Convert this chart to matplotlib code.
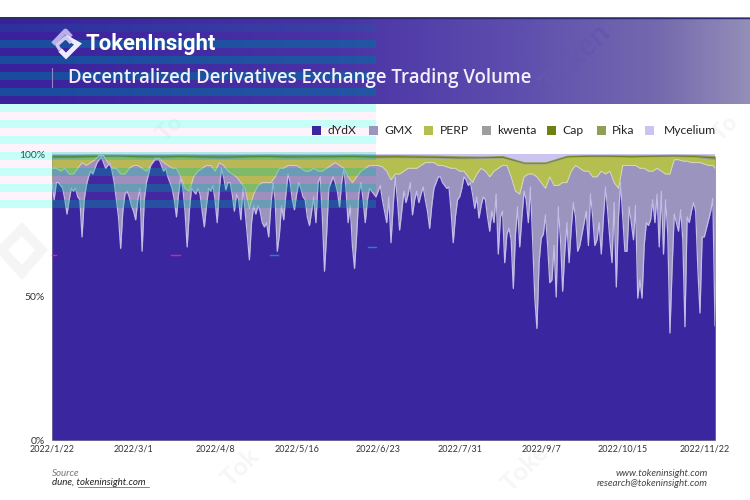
import numpy as np
import matplotlib
matplotlib.use('Agg')
import matplotlib.pyplot as plt
from matplotlib.colors import LinearSegmentedColormap
from matplotlib.patches import Rectangle, Polygon

# dYdX share, one value per day starting 2022/1/22
dydx = [90,84,90,90,89,88,84,79,84,88,87,88,85,84,71,84,89,92,94,93,
        95,97,98,99,97,95,96,97,94,90,84,78,67,80,86,87,85,82,80,77,
        84,88,66,84,90,93,96,97,98,98,98,96,94,95,92,90,88,84,78,86,
        92,88,80,67.5,80,88,87,86,88,86,80,74.5,82,88,87,89,84,76,88,95,
        92,87.5,90,90,86,80,86,84,77,88,80,72,63,76,82,79,82,80,76,74.5,
        76,71,82,90,84,66,72,82,77,86,93,90,84,80.5,86,90,88,85,84,78,
        75,80,85,76,90,92,78,59,72,88,90,92,90,87,81.5,90,95,88,76,82,
        68,60,72,86,90,84,76,84,88,87,86,85,87,89,84,80,76,85,69,82,
        92,84,73.4,80,87,83,86,90,78.7,84,87,83,86,88.5,84,80,74,82,88,90,
        92,92,90,89,88,88.5,80,69,78,84,85,88,92,91,89,90,86,81,85,77.6,
        82,85,84,78,73,80,76,86,65,78,80,62,72,74,70,53,72,81.5,67.5,78,
        87,84,76,88.5,70,50,39,62,70.6,72,78.7,68,55,56,68,50,81.5,70,52,66,
        76,62,74,83,78,66,68,72,76,80,68,86,78,68,70,76,65,78,88.5,80,
        70,62,83,53.5,78,90,78,66,66,81.5,76,70,82,49.6,56,49.6,68,76,75,77,
        84,76,86,67.5,87,65,84,72,37.4,60,79,76,73,80.5,70,39.6,78,76,80,83,
        80,60,44.4,71,71,74,77,80,84.5,40]

# top edge of the GMX layer, one value every 2 days, last day added
gmx_days = list(range(0, 309, 2)) + [309]
gmx_top = [95,95,94,95,93,93,95,97,96,97,98,99.5,99.5,97,95,95,93,93,95,96,
           96,95,94,96,98.5,98.5,97,96,95,95,92,88,87,92,94,95,96,96,94,97,
           96,94,93,92,90,88,81,86,89,90,90,90,92,95,95,96,96,96,95,94,
           94,95,94,94,95,96,97,96,95,92,90,92,94,95,96,96,96,95.5,94,91,
           93,93,94,95,95,95,96,97,97,97,96,96,95.5,95,95,94,94,92,90,93,
           95,94,92,94,95,96,96,92,87,86,92,93,93,92,90,88,92,89,89,90,
           90,94,96,95,94,94,92,92,94,93,94,90,88,96,96,96,96,95,95,94,
           94,95,94,93,93,98,98,97.5,97.5,97,97,97,96.5,96,96,95]

# top edges of the thin layers, one value every 10 days, last day added
top_days = list(range(0, 310, 10)) + [309]
perp_top = [98.5,98.6,98.8,99,98.7,98.5,98.8,98.6,98.4,98.7,98.8,98.5,98.6,98.7,98.8,98.5,
            98.7,98.6,98.5,98.3,98.4,98.6,96.5,96.5,98.8,99,99,98.8,99,99.1,98.8,98]
kwenta_top = [98.9,98.9,99.1,99.3,99,98.9,99.1,98.9,98.8,99,99.1,98.9,99,99,99.1,98.9,
              99,98.9,98.8,98.6,98.7,98.8,96.8,96.8,99,99.2,99.2,99,99.2,99.3,99.1,98.5]
cap_top = [99.4,99.5,99.5,99.6,99.5,99.4,99.5,99.4,99.3,99.5,99.5,99.4,99.4,99.5,99.5,99.4,
           99.4,99.3,99.2,99,99,99.2,97,97,99.3,99.5,99.5,99.4,99.5,99.6,99.4,99]
pika_top = [99.8,99.8,99.9,99.9,99.8,99.8,99.9,99.8,99.8,99.8,99.9,99.8,99.8,99.8,99.9,99.8,
            99.8,99.7,99.6,99.4,99.3,99.5,97.3,97.3,99.6,99.8,99.8,99.7,99.8,99.9,99.8,99.5]

legend_names = ['dYdX', 'GMX', 'PERP', 'kwenta', 'Cap', 'Pika', 'Mycelium']
legend_colors = ['#3a27a0', '#9a94bf', '#b5bf50', '#9e9e9e', '#6d8012', '#8f9f52', '#c9c5f0']
legend_box_x = [312, 369, 424, 482, 547, 597, 645]
legend_text_x = [328, 384, 440, 497, 562, 612, 664]

tick_days = list(range(0, 305, 38))
tick_labels = ['2022/1/22', '2022/3/1', '2022/4/8', '2022/5/16', '2022/6/23',
               '2022/7/31', '2022/9/7', '2022/10/15', '2022/11/22']

plt.rcParams['font.family'] = 'Lato'
fig = plt.figure(figsize=(7.5, 5), dpi=100, facecolor='white')

# background: header gradient and watermark
bg = fig.add_axes([0, 0, 1, 1], zorder=0)
header_cmap = LinearSegmentedColormap.from_list('header', [(0, '#3a219c'), (0.45, '#4a33a6'), (0.7, '#5f4fae'),
                                                           (0.88, '#7469ae'), (1, '#938db8')])
bg.imshow(np.linspace(0, 1, 300).reshape(1, -1), extent=(0, 750, 104, 17), cmap=header_cmap, aspect='auto', zorder=1)
bg.set_xlim(0, 750)
bg.set_ylim(500, 0)
bg.axis('off')
bg.plot([0, 750], [17.5, 17.5], color='#2c2a70', lw=1, zorder=2)
for x, y, s, size in [(170, 128, 'To', 16), (525, 468, 'Toke', 18), (240, 468, 'Tok', 18), (725, 128, 'To', 16)]:
    bg.text(x, y, s, rotation=45, fontsize=size, fontweight='bold', color='#f6f6f6', ha='center', va='center', zorder=2)
bg.text(575, 58, 'Token', rotation=45, fontsize=22, fontweight='bold', color='#6457ae', ha='center', va='center', zorder=2)
bg.add_patch(Polygon([(-5, 250), (22, 222), (48, 250), (22, 280)], facecolor='#f5f5f5', lw=0, zorder=2))
bg.add_patch(Polygon([(8, 250), (22, 236), (35, 250), (22, 265)], facecolor='white', lw=0, zorder=2))

# main chart
ax = fig.add_axes([52 / 750, 1 - 440 / 500, 663 / 750, 286 / 500], zorder=1)
days = np.arange(len(dydx))
ax.fill_between(top_days, 0, 100, color=legend_colors[6], lw=0)
ax.fill_between(top_days, 0, pika_top, color=legend_colors[5], lw=0)
ax.fill_between(top_days, 0, cap_top, color=legend_colors[4], lw=0)
ax.fill_between(top_days, 0, kwenta_top, color=legend_colors[3], lw=0)
ax.fill_between(top_days, 0, perp_top, color=legend_colors[2], lw=0)
ax.fill_between(gmx_days, 0, gmx_top, color=legend_colors[1], lw=0)
ax.plot(gmx_days, gmx_top, color='#d8d8c8', lw=0.7)
ax.fill_between(days, 0, dydx, color=legend_colors[0], lw=0)
ax.plot(days, dydx, color='#c2bde4', lw=0.9)
ax.set_xlim(0, len(dydx) - 1)
ax.set_ylim(0, 100)
ax.set_xticks(tick_days)
ax.set_xticklabels(tick_labels, fontsize=6.5, color='#333333')
ax.set_yticks([0, 50, 100])
ax.set_yticklabels(['0%', '50%', '100%'], fontsize=7.5, color='#333333')
ax.tick_params(axis='x', length=0, pad=3)
ax.tick_params(axis='y', length=0, pad=5)
for s in ax.spines.values():
    s.set_visible(False)

# foreground: title, legend, footer and the stripes across the left part
fg = fig.add_axes([0, 0, 1, 1], zorder=2)
fg.set_xlim(0, 750)
fg.set_ylim(500, 0)
fg.axis('off')
fg.patch.set_alpha(0)

# header stripes
fg.add_patch(Rectangle((0, 24), 376, 8, facecolor='#0070a0', alpha=0.2, lw=0))
for y in [40, 56, 72, 88]:
    fg.add_patch(Rectangle((0, y), 376, 8, facecolor='#0070a0', alpha=0.55, lw=0))
# stripes on the white part
for y in [104, 120, 136]:
    fg.add_patch(Rectangle((0, y), 376, 8, facecolor='#00ffe0', alpha=0.22, lw=0))
for y in [112, 128, 144, 160, 176, 192]:
    fg.add_patch(Rectangle((0, y), 376, 8, facecolor='#ff40c0', alpha=0.06, lw=0))
# stripes over the chart
for y in [152, 168, 184, 200]:
    fg.add_patch(Rectangle((0, y), 52, 8, facecolor='#00ffe0', alpha=0.22, lw=0))
    fg.add_patch(Rectangle((52, y), 324, 8, facecolor='#00b0a0', alpha=0.3, lw=0))
fg.plot([52, 56], [255, 255], color='#e0208c', lw=1)
fg.plot([171, 180], [255, 255], color='#e0208c', lw=1)
fg.plot([270, 278], [255, 255], color='#1090b0', lw=1)
fg.plot([368, 376], [247, 247], color='#1090b0', lw=1)

# logo
fg.plot([53, 65.5, 71], [44, 31, 37], color='#b9aee8', lw=3.5, solid_capstyle='butt')
fg.plot([65.5, 78, 66, 60], [37, 44, 56, 50], color='#f0ecff', lw=3.5, solid_capstyle='butt', solid_joinstyle='miter')
fg.plot([60, 57, 66, 71], [50, 45, 37, 43], color='#cfc8f2', lw=2.5, solid_capstyle='butt')

fg.text(86, 44, 'TokenInsight', fontsize=15.8, fontweight='bold', color='white', va='center', family='Roboto')
fg.plot([52, 52], [68, 87], color='#8f86c8', lw=0.8)
fg.text(68, 77.5, 'Decentralized Derivatives Exchange Trading Volume', fontsize=13.4, fontweight='semibold',
        color='#f2f0fb', va='center', family='Open Sans')

for name, col, bx, tx in zip(legend_names, legend_colors, legend_box_x, legend_text_x):
    fg.add_patch(Rectangle((bx, 126), 8.5, 9, facecolor=col, lw=0))
    fg.text(tx, 130.5, name, fontsize=8.7, color='#222222', va='center')

fg.text(52, 474, 'Source', fontsize=7, style='italic', color='#777777', va='center')
fg.text(52, 482.5, 'dune, tokeninsight.com', fontsize=7, style='italic', color='#222222', va='center')
fg.plot([78, 149], [487, 487], color='#555555', lw=0.5)
fg.text(708, 474, 'www.tokeninsight.com', fontsize=7, style='italic', color='#444444', va='center', ha='right')
fg.text(708, 484, 'research@tokeninsight.com', fontsize=7, style='italic', color='#444444', va='center', ha='right')

fig.savefig('out.png', dpi=100)
